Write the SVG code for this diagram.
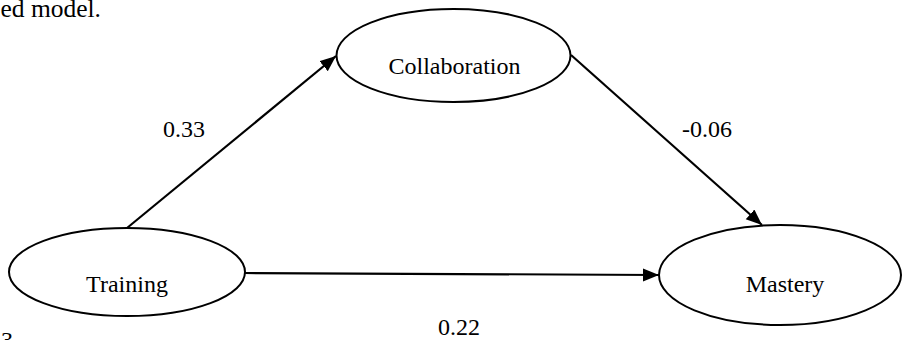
<svg xmlns="http://www.w3.org/2000/svg" width="902" height="340" viewBox="0 0 902 340">
<style>
text{font-family:"Liberation Serif","Times New Roman",serif;font-size:24px;fill:#000}
.node ellipse{fill:#fff;stroke:#000;stroke-width:2}
.node text{text-anchor:middle}
.edge{stroke:#000;stroke-width:2.2;fill:none;marker-end:url(#arr)}
</style>
<defs>
<marker id="arr" markerUnits="userSpaceOnUse" markerWidth="17" markerHeight="14" refX="16" refY="6.5" orient="auto">
<path d="M0,0 L16,6.5 L0,13 z" fill="#000"/>
</marker>
</defs>
<rect width="902" height="340" fill="#fff"/>
<text x="101" y="17" text-anchor="end" style="font-size:25.5px">ed model.</text>
<text x="1" y="348">3</text>
<g id="connectors">
<line class="edge" x1="127" y1="228" x2="336" y2="56"/>
<line class="edge" x1="571" y1="55" x2="762" y2="225"/>
<line class="edge" x1="245" y1="273" x2="659" y2="275"/>
</g>
<g id="labels">
<text x="163" y="137">0.33</text>
<text x="682" y="136.5">-0.06</text>
<text x="438" y="335">0.22</text>
</g>
<g id="collaboration" class="node">
<ellipse cx="453.5" cy="55.5" rx="117" ry="46.5"/>
<text x="454.5" y="73.5">Collaboration</text>
</g>
<g id="training" class="node">
<ellipse cx="127" cy="272" rx="118" ry="44"/>
<text x="127" y="291.5">Training</text>
</g>
<g id="mastery" class="node">
<ellipse cx="780" cy="275" rx="121" ry="50"/>
<text x="785" y="291.5">Mastery</text>
</g>
</svg>
